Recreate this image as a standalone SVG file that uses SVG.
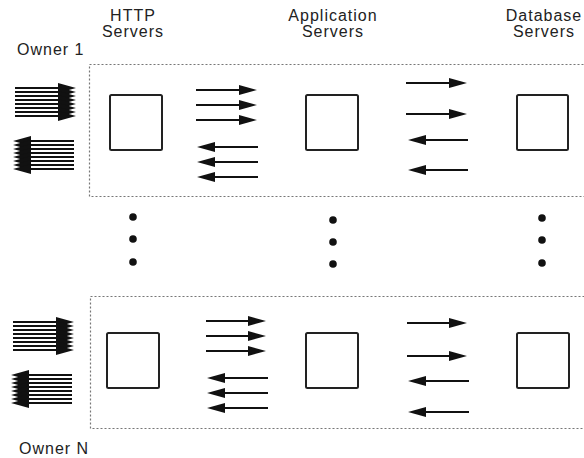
<svg xmlns="http://www.w3.org/2000/svg" width="584" height="458" viewBox="0 0 584 458">
<style>
text{font-family:"Liberation Sans",Arial,sans-serif;font-size:16px;letter-spacing:1px;fill:#222}
.c{text-anchor:middle}
.srv{fill:#fff;stroke:#222;stroke-width:2}
.own{fill:none;stroke:#777;stroke-width:1.2;stroke-dasharray:2 2}
.a{stroke:#111;stroke-width:2;fill:none;marker-end:url(#ah)}
.dot{fill:#111}
</style>
<defs>
<marker id="ah" viewBox="0 0 18 10" refX="8" refY="5" markerWidth="18" markerHeight="10" markerUnits="userSpaceOnUse" orient="auto">
<path d="M0,0 L18,5 L0,10 z" fill="#111"/>
</marker>
</defs>
<g id="labels">
<text class="c" x="133" y="21">HTTP</text>
<text class="c" x="133" y="37">Servers</text>
<text class="c" x="333" y="21">Application</text>
<text class="c" x="333" y="37">Servers</text>
<text class="c" x="544" y="21">Database</text>
<text class="c" x="544" y="37">Servers</text>
</g>
<g id="owner1">
<rect class="own" x="89.5" y="64.5" width="520" height="132"/>
<text x="17" y="55">Owner 1</text>
</g>
<g id="ownerN">
<rect class="own" x="90.5" y="296.5" width="520" height="132"/>
<text x="19" y="454">Owner N</text>
</g>
<g id="http1"><rect class="srv" x="110" y="95" width="52" height="55" rx="1.5"/></g>
<g id="app1"><rect class="srv" x="306" y="95" width="52" height="55" rx="1.5"/></g>
<g id="db1"><rect class="srv" x="517" y="95" width="51" height="55" rx="1.5"/></g>
<g id="httpN"><rect class="srv" x="107" y="333" width="52" height="55" rx="1.5"/></g>
<g id="appN"><rect class="srv" x="306" y="333" width="52" height="55" rx="1.5"/></g>
<g id="dbN"><rect class="srv" x="517" y="333" width="52" height="55" rx="1.5"/></g>
<g id="connectors">
<!-- owner 1 client bundles -->
<path class="a" d="M15,88H66"/><path class="a" d="M15,92H66"/><path class="a" d="M15,96H66"/><path class="a" d="M15,100H66"/>
<path class="a" d="M15,104H66"/><path class="a" d="M15,108H66"/><path class="a" d="M15,112H66"/><path class="a" d="M15,116H66"/>
<path class="a" d="M74,141H23"/><path class="a" d="M74,145H23"/><path class="a" d="M74,149H23"/><path class="a" d="M74,153H23"/>
<path class="a" d="M74,157H23"/><path class="a" d="M74,161H23"/><path class="a" d="M74,165H23"/><path class="a" d="M74,169H23"/>
<!-- owner 1 http-app -->
<path class="a" d="M196,90H247"/><path class="a" d="M196,105H247"/><path class="a" d="M196,120H247"/>
<path class="a" d="M258,147H207"/><path class="a" d="M258,162H207"/><path class="a" d="M258,177H207"/>
<!-- owner 1 app-db -->
<path class="a" d="M406,83H457"/><path class="a" d="M406,114H457"/>
<path class="a" d="M468,140H418"/><path class="a" d="M468,170H418"/>
<!-- owner N client bundles -->
<path class="a" d="M13,322H64"/><path class="a" d="M13,326H64"/><path class="a" d="M13,330H64"/><path class="a" d="M13,334H64"/>
<path class="a" d="M13,338H64"/><path class="a" d="M13,342H64"/><path class="a" d="M13,346H64"/><path class="a" d="M13,350H64"/>
<path class="a" d="M72,375H21"/><path class="a" d="M72,379H21"/><path class="a" d="M72,383H21"/><path class="a" d="M72,387H21"/>
<path class="a" d="M72,391H21"/><path class="a" d="M72,395H21"/><path class="a" d="M72,399H21"/><path class="a" d="M72,403H21"/>
<!-- owner N http-app -->
<path class="a" d="M206,321H256"/><path class="a" d="M206,336H256"/><path class="a" d="M206,351H256"/>
<path class="a" d="M268,378H217"/><path class="a" d="M268,393H217"/><path class="a" d="M268,408H217"/>
<!-- owner N app-db -->
<path class="a" d="M407,323H457"/><path class="a" d="M407,356H457"/>
<path class="a" d="M469,381H418"/><path class="a" d="M469,412H418"/>
</g>
<g id="ellipsis">
<circle class="dot" cx="133" cy="217" r="3.8"/><circle class="dot" cx="133" cy="239" r="3.8"/><circle class="dot" cx="133" cy="262" r="3.8"/>
<circle class="dot" cx="333" cy="220" r="3.8"/><circle class="dot" cx="333" cy="242" r="3.8"/><circle class="dot" cx="333" cy="264" r="3.8"/>
<circle class="dot" cx="542" cy="218" r="3.8"/><circle class="dot" cx="542" cy="240" r="3.8"/><circle class="dot" cx="542" cy="263" r="3.8"/>
</g>
</svg>
